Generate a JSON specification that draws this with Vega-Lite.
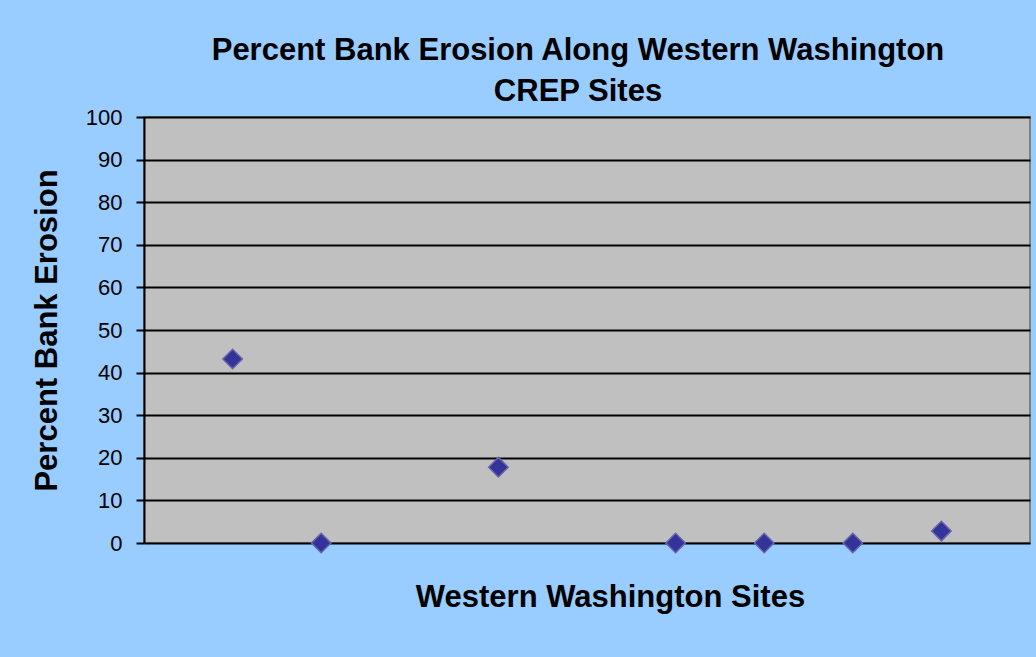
{
  "$schema": "https://vega.github.io/schema/vega-lite/v6.json",
  "autosize": "none",
  "width": 886,
  "height": 426,
  "padding": {"left": 144, "top": 117, "right": 6, "bottom": 114},
  "background": "#99CCFF",
  "config": {
    "font": "Liberation Sans",
    "view": {"fill": "#C0C0C0", "stroke": "#808080", "strokeWidth": 2}
  },
  "title": {
    "text": ["Percent Bank Erosion Along Western Washington", "CREP Sites"],
    "font": "Liberation Sans",
    "fontSize": 31,
    "fontWeight": "bold",
    "color": "#000000",
    "anchor": "middle",
    "lineHeight": 41,
    "offset": -2,
    "dx": -9
  },
  "data": {
    "values": [
      {"site": 1, "erosion": 43.2},
      {"site": 2, "erosion": 0},
      {"site": 4, "erosion": 17.8},
      {"site": 6, "erosion": 0},
      {"site": 7, "erosion": 0},
      {"site": 8, "erosion": 0},
      {"site": 9, "erosion": 2.8}
    ]
  },
  "mark": {
    "type": "point",
    "shape": "diamond",
    "filled": true,
    "size": 380,
    "fill": "#333399",
    "stroke": "#6666AA",
    "strokeWidth": 1.5,
    "opacity": 1
  },
  "encoding": {
    "x": {
      "field": "site",
      "type": "quantitative",
      "scale": {"domain": [0, 10], "nice": false, "zero": false},
      "axis": {
        "title": "Western Washington Sites",
        "titleFont": "Liberation Sans",
        "titleFontSize": 31,
        "titleFontWeight": "bold",
        "titleColor": "#000000",
        "titlePadding": 39,
        "titleX": 466,
        "labels": false,
        "ticks": false,
        "domain": false,
        "grid": false
      }
    },
    "y": {
      "field": "erosion",
      "type": "quantitative",
      "scale": {"domain": [0, 100], "nice": false},
      "axis": {
        "title": "Percent Bank Erosion",
        "titleFont": "Liberation Sans",
        "titleFontSize": 31,
        "titleFontWeight": "bold",
        "titleColor": "#000000",
        "titlePadding": 22,
        "values": [0, 10, 20, 30, 40, 50, 60, 70, 80, 90, 100],
        "labelFont": "Liberation Sans",
        "labelFontSize": 22,
        "labelColor": "#000000",
        "labelPadding": 14,
        "tickSize": 8,
        "tickColor": "#000000",
        "tickWidth": 2,
        "domainColor": "#000000",
        "domainWidth": 2,
        "grid": true,
        "gridColor": "#000000",
        "gridWidth": 2,
        "gridOpacity": 1
      }
    }
  }
}
